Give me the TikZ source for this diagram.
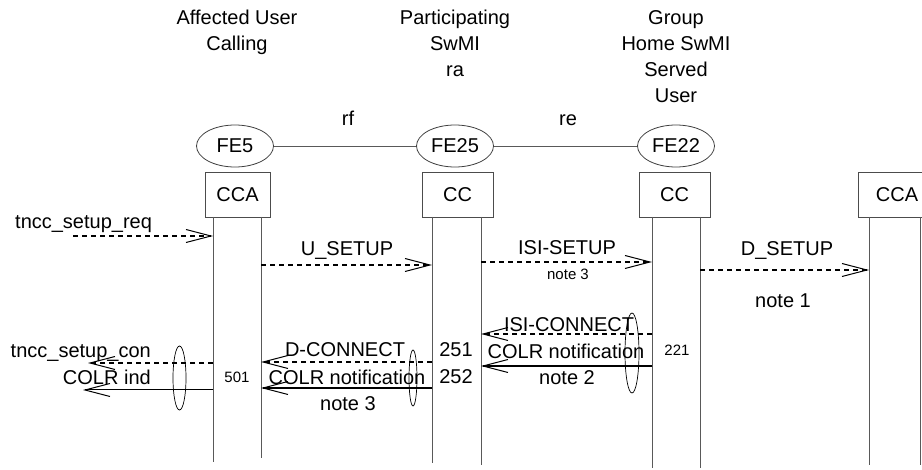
\documentclass[tikz,border=0pt]{standalone}
\usepackage{fontspec}
\setmainfont{Liberation Sans}
\usetikzlibrary{arrows.meta,shapes.geometric}

\begin{document}
\begin{tikzpicture}[x=1pt,y=-1pt,>={Straight Barb[length=25pt,width=13pt,line width=1pt]}]
    \tikzstyle{every node}=[inner sep=0pt, font=\fontsize{20}{26}\selectfont]
    \tikzstyle{small}=[font=\fontsize{15}{18}\selectfont]
    \tikzstyle{fe}=[ellipse, draw=black!75, line width=0.8pt, minimum width=77pt, minimum height=42pt]
    \tikzstyle{cc box}=[rectangle, draw=black!70, line width=0.8pt, minimum height=45pt]
    \tikzstyle{lifeline}=[draw=black!65, line width=0.8pt]
    \tikzstyle{link}=[draw=black!65, line width=0.8pt]
    \tikzstyle{req}=[->, line width=1.8pt, dash pattern=on 5pt off 4pt]
    \tikzstyle{rsp}=[->, line width=1.5pt]
    \tikzstyle{oval}=[ellipse, draw, line width=0.7pt]
    \useasboundingbox (0,0) rectangle (922,470);

    % Titles over the columns
    \node[align=center, anchor=north] (hdr-A) at (237,10) {Affected User\\Calling};
    \node[align=center, anchor=north] (hdr-B) at (455,10) {Participating\\SwMI\\ra};
    \node[align=center, anchor=north] (hdr-C) at (676,10) {Group\\Home SwMI\\Served\\User};

    % Functional entities and the relations between them
    \foreach \name/\x in {5/235,25/455,22/676}
        \node[fe] (fe\name) at (\x,146) {FE\name};
    \draw[link] (fe5) -- (fe25);
    \draw[link] (fe25) -- (fe22);
    \node[anchor=base] (rf) at (348,126) {rf};
    \node[anchor=base] (re) at (568,126) {re};

    % Boxes and their two lifelines
    \foreach \name/\x/\w/\txt in {A/237.5/65/CCA,B/457.5/71/CC,C/674.5/71/CC,D/897/78/CCA}
        \node[cc box, minimum width=\w pt] (box-\name) at (\x,194.5) {\txt};
    \foreach \name/\x/\yb in {A1/213/462,A2/261/458,B1/432/463,B2/481/465,C1/652/468,C2/700/468,D1/869/465,D2/920/465}
    {
        \coordinate (top-\name) at (\x,217);
        \coordinate (bot-\name) at (\x,\yb);
        \draw[lifeline] (top-\name) -- (bot-\name);
    }

    % Rows of the messages
    \coordinate (req-in) at (73,236);
    \coordinate (row-u) at (0,265);
    \coordinate (row-isi) at (0,262);
    \coordinate (row-d) at (0,270);
    \coordinate (row-isicon) at (0,334);
    \coordinate (row-colrc) at (0,366);
    \coordinate (row-dcon) at (0,362);
    \coordinate (row-colrb) at (0,388);
    \coordinate (con-out) at (88,363);
    \coordinate (ind-out) at (83,390);

    % Set up
    \draw[req] (req-in) -- (req-in -| top-A1);
    \draw[req] (row-u -| top-A2) -- (row-u -| top-B1);
    \draw[req] (row-isi -| top-B2) -- (row-isi -| top-C1);
    \draw[req] (row-d -| top-C2) -- (row-d -| top-D1);
    \node[anchor=base west] (l-req) at (15,229) {tncc\_setup\_req};
    \node[anchor=base] (l-u) at (347,256) {U\_SETUP};
    \node[anchor=base] (l-isi) at (567,255) {ISI-SETUP};
    \node[small, anchor=base] (l-n3a) at (568,280) {note 3};
    \node[anchor=base] (l-d) at (787,256) {D\_SETUP};
    \node[anchor=base] (l-n1) at (783,308) {note 1};

    % Connect back
    \draw[req] (row-isicon -| top-C1) -- (row-isicon -| top-B2);
    \draw[rsp] (row-colrc -| top-C1) -- (row-colrc -| top-B2);
    \draw[req] (row-dcon -| top-B1) -- (row-dcon -| top-A2);
    \draw[rsp] (row-colrb -| top-B1) -- (row-colrb -| top-A2);
    \draw[req] (con-out -| top-A1) -- (con-out);
    \draw[->, line width=1pt] (ind-out -| top-A1) -- (ind-out);

    \node[anchor=base] (l-isicon) at (569,332) {ISI-CONNECT};
    \node[anchor=base] (l-colrc) at (566,359) {COLR notification};
    \node[anchor=base] (l-n2) at (567,385) {note 2};
    \node[small, anchor=base] (l-221) at (677,356) {221};
    \node[anchor=base] (l-dcon) at (345,357) {D-CONNECT};
    \node[anchor=base] (l-colrb) at (347,385) {COLR notification};
    \node[anchor=base] (l-n3b) at (348,411) {note 3};
    \node[anchor=base] (l-251) at (456,357) {251};
    \node[anchor=base] (l-252) at (456,384) {252};
    \node[anchor=base east] (l-con) at (151,358) {tncc\_setup\_con};
    \node[anchor=base east] (l-ind) at (151,385) {COLR ind};
    \node[small, anchor=base] (l-501) at (237,383) {501};

    % Ovals round the grouped messages
    \node[oval, minimum width=13pt, minimum height=64pt] (ov-A) at (179.5,378) {};
    \node[oval, minimum width=8pt, minimum height=56pt] (ov-B) at (413,378) {};
    \node[oval, minimum width=14pt, minimum height=80pt] (ov-C) at (632,353) {};
\end{tikzpicture}
\end{document}
